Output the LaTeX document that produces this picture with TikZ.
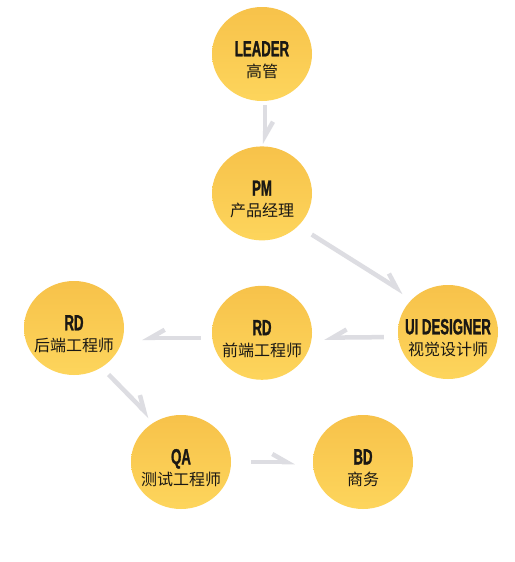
\documentclass[tikz,border=0pt]{standalone}
\usepackage{fontspec}
\setmainfont{Liberation Sans}
\newfontfamily\cjk{Noto Sans CJK SC}
\newfontfamily\headfont[FakeStretch=0.6,FakeBold=1.2]{Liberation Sans}
\usetikzlibrary{arrows.meta,positioning,shapes.geometric}
\definecolor{roleTop}{RGB}{247,194,74}
\definecolor{roleBot}{RGB}{253,213,92}
\definecolor{roleText}{RGB}{26,24,20}
\definecolor{flowGray}{RGB}{221,221,226}
\tikzset{
  role/.style ={ellipse, minimum width=100pt, minimum height=94pt, inner sep=0pt,
                top color=roleTop, bottom color=roleBot, draw=none,
                align=center, text=roleText, font=\fontsize{16}{21}\selectfont},
  fl/.style   ={-{Straight Barb[left,length=14pt,width=16pt]}, line width=4.5pt,
                draw=flowGray},
  flr/.style  ={-{Straight Barb[right,length=14pt,width=16pt]}, line width=4.5pt,
                draw=flowGray},
}
\newcommand{\rolename}[2]{\rule{0pt}{27pt}\makebox[0pt]{\headfont\bfseries\fontsize{22}{21}\selectfont #1}\\\makebox[0pt]{\cjk #2}}
\begin{document}
\begin{tikzpicture}[x=1pt, y=-1pt, node distance=45pt]
\useasboundingbox[fill=white] (0,0) rectangle (514,562);
\node[role] (leader) at (262,54) {\rolename{LEADER}{高管}};
\node[role, below=of leader] (pm) {\rolename{PM}{产品经理}};
\node[role, below=of pm] (rdfe) {\rolename{RD}{前端工程师}};
\node[role] (ui) at (448,332) {\rolename{UI DESIGNER}{视觉设计师}};
\node[role] (rdbe) at (74,328) {\rolename{RD}{后端工程师}};
\node[role] (qa) at (181,462) {\rolename{QA}{测试工程师}};
\node[role] (bd) at (363,462) {\rolename{BD}{商务}};
% flow between the roles
\draw[fl, shorten <=4pt, shorten >=2pt] ([xshift=3pt]leader.south) -- ([xshift=3pt]pm.north);
\draw[fl, shorten <=16pt, shorten >=11pt] (pm.-42) -- (ui.136);
\draw[flr, shorten <=14pt, shorten >=12pt] ([yshift=-5pt]ui.west) -- ([yshift=-5pt]rdfe.east);
\draw[flr, shorten <=11pt, shorten >=18pt] ([yshift=-5pt]rdfe.west) coordinate (fe) -- (fe -| rdbe.east);
\draw[fl, shorten <=10pt, shorten >=7pt] (rdbe.-55) -- (qa.123);
\draw[fl, shorten <=20pt, shorten >=18pt] (qa.east) -- (bd.west);
\end{tikzpicture}
\end{document}
